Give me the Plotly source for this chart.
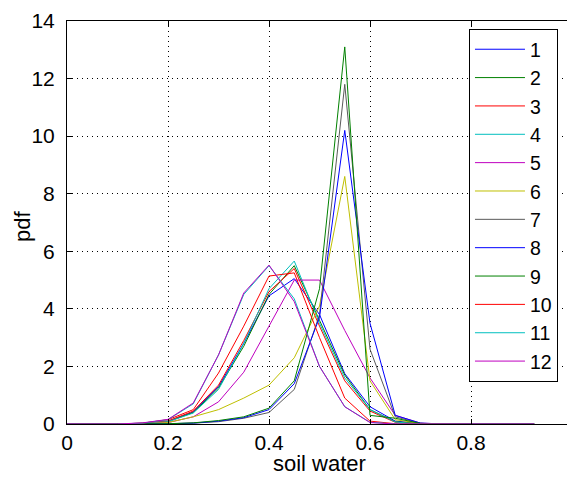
import plotly.graph_objects as go

# bin centres (soil water)
soil_water = [0.0, 0.05, 0.1, 0.15, 0.2, 0.25, 0.3, 0.35, 0.4, 0.45, 0.5, 0.55,
              0.6, 0.65, 0.7, 0.75, 0.8, 0.85, 0.9, 0.925]

series_names = ["1", "2", "3", "4", "5", "6", "7", "8", "9", "10", "11", "12"]

pdf_1 = [0, 0, 0, 0.02, 0.1, 0.42, 1.3, 2.8, 4.45, 5.05, 3.8, 1.75, 0.6, 0.1, 0.02, 0, 0, 0, 0, 0]
pdf_2 = [0, 0, 0, 0.02, 0.08, 0.4, 1.25, 2.7, 4.5, 5.5, 3.6, 1.7, 0.5, 0.08, 0.01, 0, 0, 0, 0, 0]
pdf_3 = [0, 0, 0, 0.02, 0.1, 0.45, 1.35, 2.9, 4.6, 5.4, 3.4, 1.5, 0.45, 0.06, 0, 0, 0, 0, 0, 0]
pdf_4 = [0, 0, 0, 0.02, 0.08, 0.38, 1.2, 2.8, 4.7, 5.66, 3.5, 1.6, 0.5, 0.07, 0, 0, 0, 0, 0, 0]
pdf_5 = [0, 0, 0, 0.01, 0.05, 0.25, 0.77, 1.8, 3.4, 5.0, 5.0, 3.25, 1.6, 0.3, 0.03, 0, 0, 0, 0, 0]
pdf_6 = [0, 0, 0, 0.01, 0.05, 0.25, 0.5, 0.9, 1.35, 2.3, 4.1, 8.6, 1.5, 0.15, 0.02, 0, 0, 0, 0, 0]
pdf_7 = [0, 0, 0, 0, 0.01, 0.03, 0.08, 0.2, 0.4, 1.2, 3.8, 11.8, 2.6, 0.25, 0.02, 0, 0, 0, 0, 0]
pdf_8 = [0, 0, 0, 0, 0.01, 0.03, 0.1, 0.22, 0.5, 1.4, 3.7, 10.2, 3.5, 0.3, 0.03, 0, 0, 0, 0, 0]
pdf_9 = [0, 0, 0, 0, 0.01, 0.04, 0.12, 0.25, 0.55, 1.5, 4.7, 13.1, 0.3, 0.2, 0.02, 0, 0, 0, 0, 0]
pdf_10 = [0, 0, 0, 0.03, 0.15, 0.5, 1.77, 3.4, 5.14, 5.25, 3.0, 0.9, 0.1, 0.01, 0, 0, 0, 0, 0, 0]
pdf_11 = [0, 0, 0, 0.03, 0.15, 0.7, 2.4, 4.5, 5.5, 4.35, 2.0, 0.6, 0.06, 0, 0, 0, 0, 0, 0, 0]
pdf_12 = [0, 0, 0, 0.04, 0.16, 0.73, 2.4, 4.55, 5.52, 4.25, 2.0, 0.6, 0.05, 0, 0, 0, 0, 0, 0, 0]

all_pdfs = [pdf_1, pdf_2, pdf_3, pdf_4, pdf_5, pdf_6, pdf_7, pdf_8, pdf_9, pdf_10, pdf_11, pdf_12]

colors = ["#0000ff", "#008000", "#ff0000", "#00bfbf", "#bf00bf", "#bfbf00",
          "#5a5a5a", "#0000ff", "#008000", "#ff0000", "#00bfbf", "#bf00bf"]

x_ticks = [0, 0.2, 0.4, 0.6, 0.8, 1]
x_tick_labels = ["0", "0.2", "0.4", "0.6", "0.8", "1"]
y_ticks = [0, 2, 4, 6, 8, 10, 12, 14]

fig = go.Figure()
for name, ys, c in zip(series_names, all_pdfs, colors):
    fig.add_trace(go.Scatter(x=soil_water, y=ys, mode="lines", name=name,
                             line=dict(color=c, width=1)))

fam = "Arial, Liberation Sans, sans-serif"
font = dict(family=fam, size=21, color="black")

# The page body has an 8px margin, so the figure is 8px smaller than the window.
fig.update_layout(
    width=567, height=469,
    margin=dict(l=59, r=3, t=13, b=53, autoexpand=False),
    paper_bgcolor="white", plot_bgcolor="white",
    font=font,
    showlegend=True,
    legend=dict(x=0.796, y=0.98, xanchor="left", yanchor="top",
                bgcolor="white", bordercolor="black", borderwidth=1,
                font=dict(family=fam, size=19.5, color="black"),
                itemwidth=50, entrywidth=82),
    xaxis=dict(range=[0, 1], tickvals=x_ticks, ticktext=x_tick_labels,
               showgrid=True, gridcolor="black", griddash="1px,4px", gridwidth=1,
               ticks="inside", ticklen=5, tickcolor="black",
               showline=True, linecolor="black", linewidth=1, mirror="ticks",
               zeroline=False, automargin=False, ticklabeloverflow="allow",
               tickfont=dict(family=fam, size=21, color="black")),
    yaxis=dict(range=[0, 14], tickvals=y_ticks,
               showgrid=True, gridcolor="black", griddash="1px,4px", gridwidth=1,
               ticks="inside", ticklen=5, tickcolor="black",
               showline=True, linecolor="black", linewidth=1, mirror="ticks",
               zeroline=False, automargin=False, ticklabelstandoff=7,
               ticklabeloverflow="allow",
               tickfont=dict(family=fam, size=21, color="black")),
    annotations=[
        dict(text="soil water", xref="paper", yref="paper", x=0.5, y=-0.097,
             xanchor="center", yanchor="middle", showarrow=False,
             font=dict(family=fam, size=22, color="black")),
        dict(text="pdf", xref="paper", yref="paper", x=-0.087, y=0.489,
             xanchor="center", yanchor="middle", showarrow=False, textangle=-90,
             font=dict(family=fam, size=22, color="black")),
    ],
)

fig.write_html("out.html")
